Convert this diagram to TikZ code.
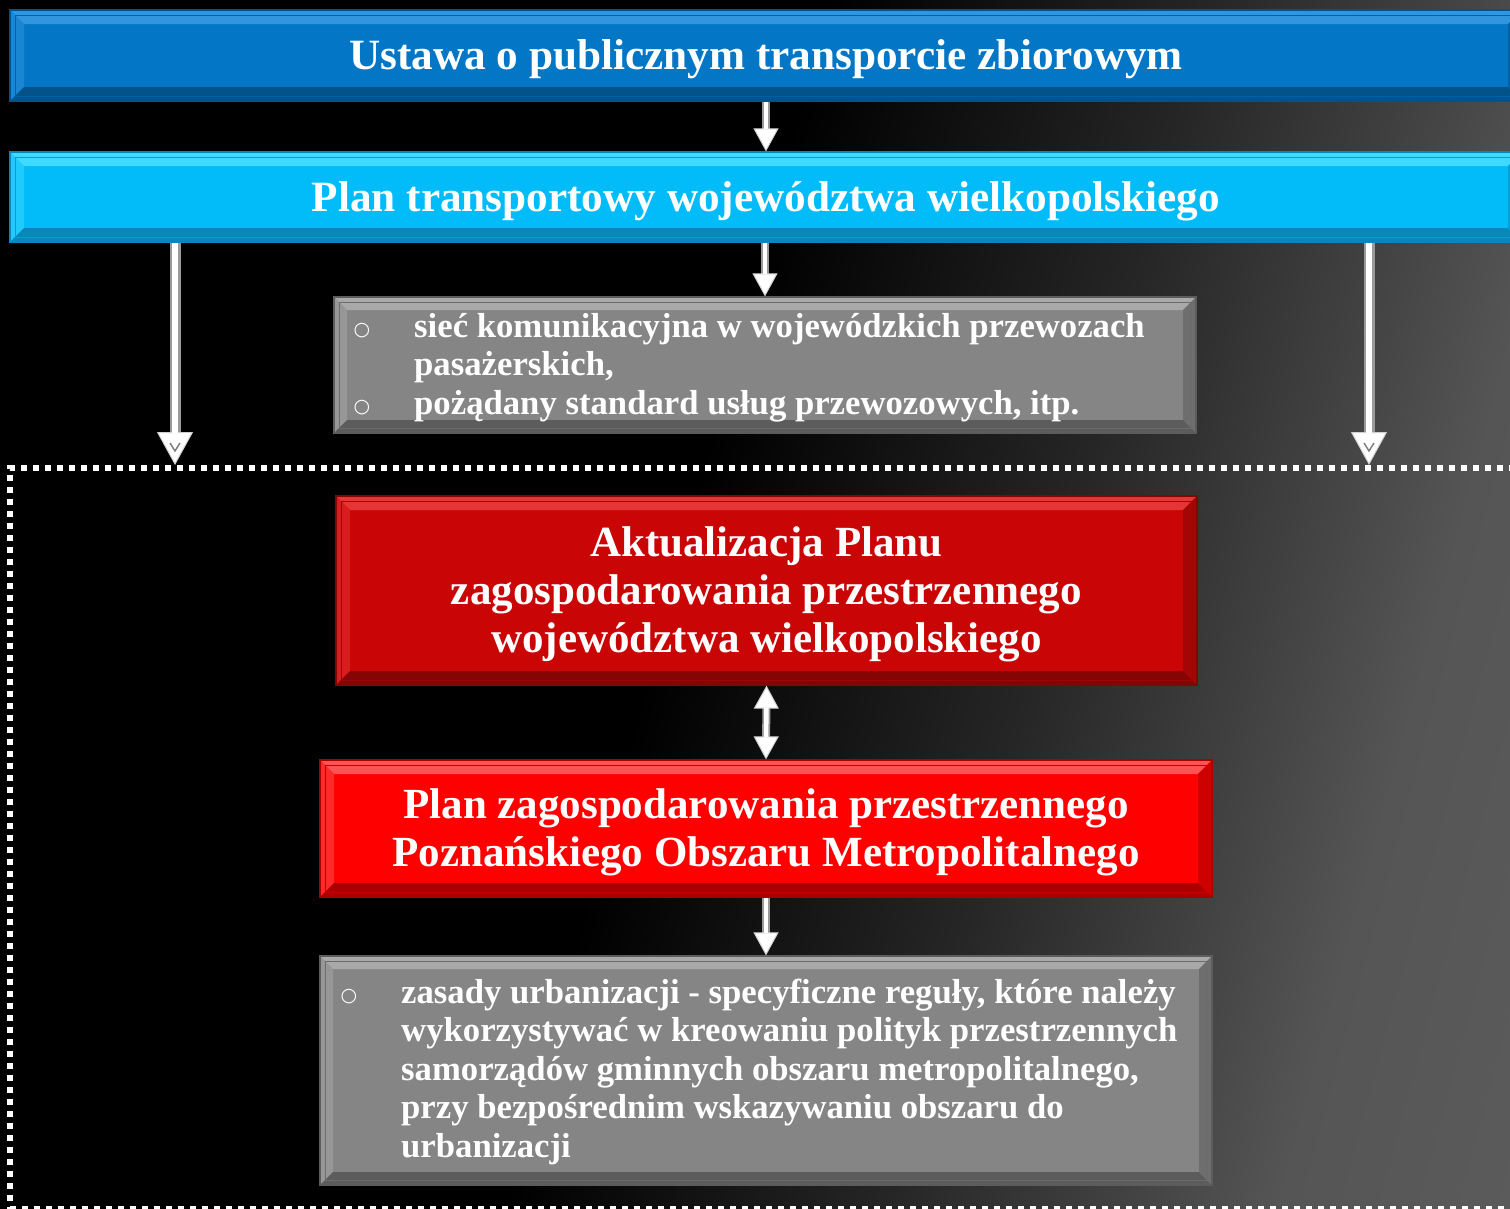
\documentclass[tikz,border=0pt]{standalone}
\usepackage{fontspec}
\setmainfont{Liberation Serif}
\newfontfamily\symfont{DejaVu Sans}
\usetikzlibrary{arrows.meta}
\definecolor{bgray}{HTML}{555555}
\definecolor{blueA}{HTML}{0376C6}
\definecolor{blueL}{HTML}{3196DE}
\definecolor{blueD}{HTML}{03528A}
\definecolor{cyanA}{HTML}{02BCF9}
\definecolor{cyanL}{HTML}{3FDAFF}
\definecolor{cyanD}{HTML}{0788B8}
\definecolor{grayA}{HTML}{858585}
\definecolor{grayL}{HTML}{A9A9A9}
\definecolor{grayD}{HTML}{5C5C5C}
\definecolor{redAa}{HTML}{C90505}
\definecolor{redAl}{HTML}{E53535}
\definecolor{redAd}{HTML}{850505}
\definecolor{redBa}{HTML}{FE0000}
\definecolor{redBl}{HTML}{FF5252}
\definecolor{redBd}{HTML}{A80000}
\definecolor{arrgray}{HTML}{D0D0D0}
\definecolor{arredge}{HTML}{9A9A9A}
\pgfdeclarehorizontalshading{bgshade}{100bp}{color(0bp)=(black); color(47bp)=(black); color(60bp)=(black!55!bgray); color(73bp)=(bgray); color(100bp)=(bgray!88!white)}
\newcommand\bevw{14pt}
\tikzset{
  setbev/.code={\renewcommand\bevw{#1}},
  bevelbox/.style n args={3}{rectangle, inner sep=0pt, fill=#1, draw=#3, line width=1.2pt,
    path picture={
      \fill[#2] (path picture bounding box.north west) -- (path picture bounding box.north east)
        -- ([xshift=-\bevw,yshift=-\bevw]path picture bounding box.north east)
        -- ([xshift=\bevw,yshift=-\bevw]path picture bounding box.north west) -- cycle;
      \fill[#2!50!#1] (path picture bounding box.north west) -- (path picture bounding box.south west)
        -- ([xshift=\bevw,yshift=\bevw]path picture bounding box.south west)
        -- ([xshift=\bevw,yshift=-\bevw]path picture bounding box.north west) -- cycle;
      \fill[#3] (path picture bounding box.south west) -- (path picture bounding box.south east)
        -- ([xshift=-\bevw,yshift=\bevw]path picture bounding box.south east)
        -- ([xshift=\bevw,yshift=\bevw]path picture bounding box.south west) -- cycle;
      \fill[#3!55!#1] (path picture bounding box.south east) -- (path picture bounding box.north east)
        -- ([xshift=-\bevw,yshift=-\bevw]path picture bounding box.north east)
        -- ([xshift=-\bevw,yshift=\bevw]path picture bounding box.south east) -- cycle;
      \draw[#3!60!#1, line width=1pt] ([xshift=5pt,yshift=-5pt]path picture bounding box.north west) rectangle ([xshift=-5pt,yshift=5pt]path picture bounding box.south east);
    }},
  titletext/.style={text=white, font=\bfseries\fontsize{43.2}{48}\selectfont, align=center, text depth=1.5pt},
  redtext/.style={text=white, font=\bfseries\fontsize{43}{48}\selectfont, align=center, text depth=1.5pt},
  itemtext/.style={text=white, font=\bfseries\fontsize{34.7}{38.5}\selectfont, anchor=base west, inner sep=0pt},
  bulletmark/.style={text=white, font=\symfont\fontsize{19}{19}\selectfont, inner sep=0pt},
  arr/.style={draw=arredge, line width=8pt, -{Triangle[length=23pt,width=25pt,line width=1pt,fill=white,color=arrgray]},
    postaction={draw=white, line width=4.5pt, -, shorten >=22pt}},
  arrboth/.style={draw=arredge, line width=8pt, {Triangle[length=23pt,width=25pt,line width=1pt,fill=white,color=arrgray]}-{Triangle[length=23pt,width=25pt,line width=1pt,fill=white,color=arrgray]},
    postaction={draw=white, line width=4.5pt, -, shorten >=22pt, shorten <=22pt}},
  bigarr/.style={draw=arredge, line width=11pt, -{Triangle[length=33pt,width=36pt,line width=1pt,fill=white,color=arrgray]},
    postaction={draw=white, line width=6.5pt, -, shorten >=32pt}},
  notch/.style={draw=gray, line width=1.5pt},
  dotframe/.style={draw=white, line width=6pt, dash pattern=on 6pt off 6pt, rectangle, inner sep=0pt},
}
\begin{document}
\begin{tikzpicture}[x=1pt,y=-1pt]
\useasboundingbox (0,0) rectangle (1510,1208);
\fill[black] (0,0) rectangle (1510,1208);
\shade[shading=bgshade, shading angle=-15] (0,0) rectangle (1510,1208);

% dotted frame
\node[dotframe, minimum width=1510pt, minimum height=741pt] (frame) at (765,838.5) {};

% boxes
\node[bevelbox={blueA}{blueL}{blueD}, minimum width=1512pt, minimum height=91pt, titletext] (ustawa) at (766,55.5) {Ustawa o publicznym transporcie zbiorowym};
\node[bevelbox={cyanA}{cyanL}{cyanD}, minimum width=1512pt, minimum height=90pt, titletext] (plan) at (766,197) {Plan transportowy województwa wielkopolskiego};
\node[bevelbox={grayA}{grayL}{grayD}, setbev=13pt, minimum width=862pt, minimum height=136pt] (info1) at (765,365) {};
\node[bevelbox={redAa}{redAl}{redAd}, minimum width=861pt, minimum height=189pt, redtext] (aktual) at (766.5,590.5) {Aktualizacja Planu\\zagospodarowania przestrzennego\\województwa wielkopolskiego};
\node[bevelbox={redBa}{redBl}{redBd}, minimum width=892pt, minimum height=137pt, redtext] (pzp) at (766,828.5) {Plan zagospodarowania przestrzennego\\Poznańskiego Obszaru Metropolitalnego};
\node[bevelbox={grayA}{grayL}{grayD}, setbev=13pt, minimum width=892pt, minimum height=229pt] (info2) at (766,1070.5) {};

% texts in gray boxes
\node[bulletmark] (b1) at (362,331) {○};
\node[itemtext] (i1a) at (414,337) {sieć komunikacyjna w wojewódzkich przewozach};
\node[itemtext] (i1b) at (414,375.5) {pasażerskich,};
\node[bulletmark] (b2) at (362,408) {○};
\node[itemtext] (i1c) at (414,414) {pożądany standard usług przewozowych, itp.};

\node[bulletmark] (b3) at (349,997) {○};
\node[itemtext] (i2a) at (401,1003) {zasady urbanizacji - specyficzne reguły, które należy};
\node[itemtext] (i2b) at (401,1041.5) {wykorzystywać w kreowaniu polityk przestrzennych};
\node[itemtext] (i2c) at (401,1080) {samorządów gminnych obszaru metropolitalnego,};
\node[itemtext] (i2d) at (401,1118.5) {przy bezpośrednim wskazywaniu obszaru do};
\node[itemtext] (i2e) at (401,1157) {urbanizacji};

% arrows
\coordinate (L) at (175,0);
\coordinate (R) at (1369,0);
\draw[arr] (ustawa.south) -- (plan.north);
\draw[arr] (plan.south -| info1.north) -- (info1.north);
\draw[arrboth] (aktual.south) -- (pzp.north);
\draw[arr] (pzp.south) -- (info2.north);
\draw[bigarr] (plan.south -| L) -- (frame.north -| L);
\draw[bigarr] (plan.south -| R) -- (frame.north -| R);
\draw[notch] ([xshift=-5pt,yshift=22pt]frame.north -| L) -- ([yshift=14pt]frame.north -| L) -- ([xshift=5pt,yshift=22pt]frame.north -| L);
\draw[notch] ([xshift=-5pt,yshift=22pt]frame.north -| R) -- ([yshift=14pt]frame.north -| R) -- ([xshift=5pt,yshift=22pt]frame.north -| R);
\end{tikzpicture}
\end{document}
